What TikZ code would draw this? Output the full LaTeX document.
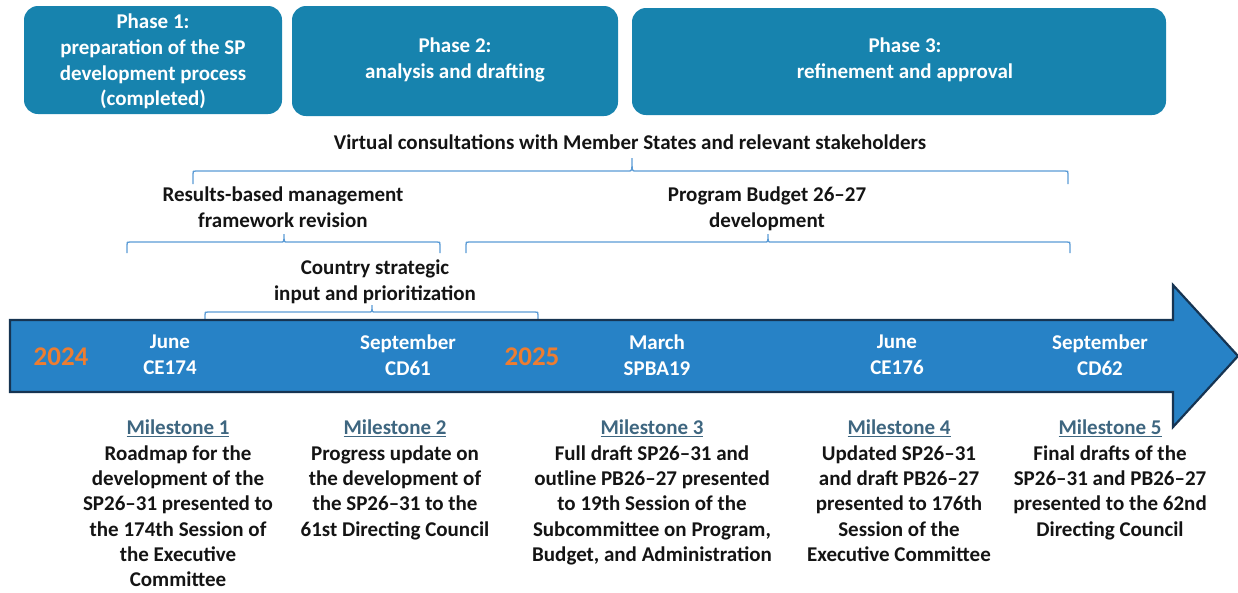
\documentclass[tikz,border=0pt]{standalone}
\usepackage{fontspec}
\setmainfont{Carlito}
\definecolor{phasecol}{RGB}{23,131,174}
\definecolor{bracecol}{RGB}{91,155,213}
\definecolor{arrowfill}{RGB}{39,130,198}
\definecolor{arrowline}{RGB}{22,52,82}
\definecolor{yearcol}{RGB}{237,125,49}
\definecolor{mslab}{RGB}{62,102,128}
\definecolor{txtcol}{RGB}{20,20,20}
\newcommand{\mybrace}[7]{%
  \draw[bracestyle] (#1,#5) -- (#1,#4+3) .. controls (#1,#4) .. (#1+3,#4)
    -- (#3-3,#4) .. controls (#3,#4) .. (#3,#6)
    .. controls (#3,#4) .. (#3+3,#4) -- (#2-3,#4)
    .. controls (#2,#4) .. (#2,#4+3) -- (#2,#5);
  \coordinate (#7) at (#3,#6);}
\begin{document}
\begin{tikzpicture}[x=1pt,y=-1pt,
  basefont/.style={font=\bfseries\fontsize{21}{25.6}\selectfont},
  txt/.style={basefont, align=center, inner sep=0pt, text=txtcol, anchor=north},
  phasebox/.style={fill=phasecol, draw=none, rounded corners=14pt, inner sep=0pt},
  phasetxt/.style={basefont, align=center, inner sep=0pt, text=white, anchor=north},
  monthtxt/.style={basefont, align=center, inner sep=0pt, text=white, anchor=north},
  yeartxt/.style={font=\bfseries\fontsize{27}{30}\selectfont, text=yearcol, inner sep=0pt},
  bracestyle/.style={draw=bracecol, line width=1.3pt},
  mstxt/.style={font=\bfseries\fontsize{21}{25.3}\selectfont, align=center, inner sep=0pt, text=txtcol, anchor=north}]
\useasboundingbox (0,0) rectangle (1238,592);

% phase boxes
\node[phasebox, minimum width=258pt, minimum height=108pt] (p1box) at (153,60) {};
\node[phasebox, minimum width=326pt, minimum height=110pt] (p2box) at (455,61) {};
\node[phasebox, minimum width=534pt, minimum height=107pt] (p3box) at (899,61.5) {};
\node[phasetxt] (p1) at (153,14) {Phase 1:\\preparation of the SP\\development process\\(completed)};
\node[phasetxt] (p2) at (455,38) {Phase 2:\\analysis and drafting};
\node[phasetxt] (p3) at (905,38) {Phase 3:\\refinement and approval};

% consultations
\node[txt] (vc) at (630,135) {Virtual consultations with Member States and relevant stakeholders};
\mybrace{193}{1068}{632}{171}{184}{158}{vctip}
\node[txt] (rbm) at (283,187) {Results-based management\\framework revision};
\mybrace{127}{440}{284}{242}{253}{234}{rbmtip}
\node[txt] (pb) at (767,187) {Program Budget 26--27\\development};
\mybrace{466}{1070}{768}{242}{253}{234}{pbtip}
\node[txt] (csi) at (375,260) {Country strategic\\input and prioritization};
\mybrace{205}{538}{372}{312}{319}{305}{csitip}

% timeline arrow
\filldraw[fill=arrowfill, draw=arrowline, line width=2.2pt, line join=miter]
  (10,320) -- (1173,320) -- (1173,285) -- (1238,356) -- (1173,427) -- (1173,392) -- (10,392) -- cycle;

\node[yeartxt] (y24) at (61,357) {2024};
\node[yeartxt] (y25) at (532,357) {2025};
\node[monthtxt] (t1) at (170,335) {June\\CE174};
\node[monthtxt] (t2) at (408,335) {September\\CD61};
\node[monthtxt] (t3) at (657,335) {March\\SPBA19};
\node[monthtxt] (t4) at (897,335) {June\\CE176};
\node[monthtxt] (t5) at (1100,335) {September\\CD62};

% milestones
\node[mstxt] (m1) at (178,420) {\textcolor{mslab}{\underline{Milestone 1}}\\Roadmap for the\\development of the\\SP26--31 presented to\\the 174th Session of\\the Executive\\Committee};
\node[mstxt] (m2) at (395,420) {\textcolor{mslab}{\underline{Milestone 2}}\\Progress update on\\the development of\\the SP26--31 to the\\61st Directing Council};
\node[mstxt] (m3) at (652,420) {\textcolor{mslab}{\underline{Milestone 3}}\\Full draft SP26--31 and\\outline PB26--27 presented\\to 19th Session of the\\Subcommittee on Program,\\Budget, and Administration};
\node[mstxt] (m4) at (899,420) {\textcolor{mslab}{\underline{Milestone 4}}\\Updated SP26--31\\and draft PB26--27\\presented to 176th\\Session of the\\Executive Committee};
\node[mstxt] (m5) at (1110,420) {\textcolor{mslab}{\underline{Milestone 5}}\\Final drafts of the\\SP26--31 and PB26--27\\presented to the 62nd\\Directing Council};
\end{tikzpicture}
\end{document}
